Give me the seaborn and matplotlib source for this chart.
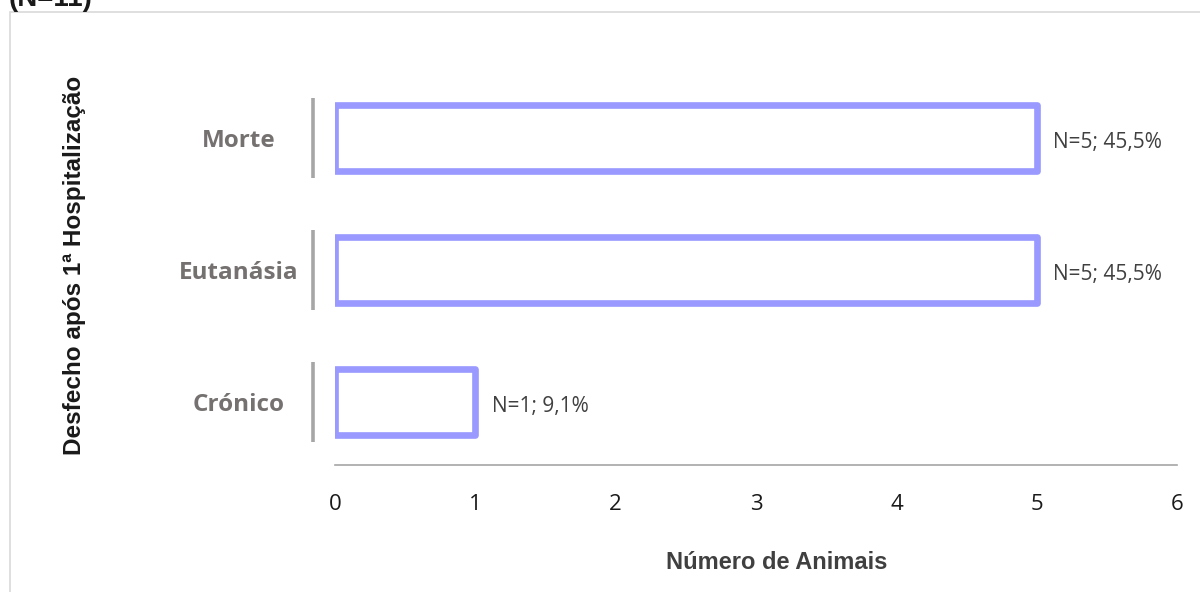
import matplotlib
matplotlib.use("Agg")
import matplotlib.pyplot as plt
import matplotlib.transforms as mtransforms
from matplotlib.patches import Rectangle
import seaborn as sns
import pandas as pd

# Outcome after first hospitalisation (N=11)
categories = ["Morte", "Eutanásia", "Crónico"]
counts = [5, 5, 1]
labels = ["N=5; 45,5%", "N=5; 45,5%", "N=1; 9,1%"]
xticks = [0, 1, 2, 3, 4, 5, 6]

df = pd.DataFrame({"Desfecho": categories, "Animais": counts})

sns.set_theme(style="white")
plt.rcParams["font.family"] = ["Open Sans", "DejaVu Sans"]

fig = plt.figure(figsize=(12, 5.92), dpi=100)
ax = fig.add_axes([0.279, 0.2145, 0.702, 0.6639])

sns.barplot(data=df, x="Animais", y="Desfecho", orient="h", order=categories,
            color="#9999FF", fill=False, width=0.5, linewidth=4.8, ax=ax)
for p in ax.patches:
    p.set_joinstyle("round")
    p.set_edgecolor("#9999FF")
    p.set_facecolor("white")

ax.set_xlim(0, 6)
ax.set_ylim(2.477, -0.5)
ax.set_xticks(xticks)
ax.set_xticklabels([str(t) for t in xticks], fontsize=16, color="#1a1a1a")
ax.tick_params(axis="x", length=0, pad=21)
ax.set_yticks(range(len(categories)))
ax.set_yticklabels([])
ax.tick_params(axis="y", length=0)

# category names, centred in the space left of the axis
ytrans = mtransforms.blended_transform_factory(fig.transFigure, ax.transData)
for i, name in enumerate(categories):
    ax.text(0.1985, i + 0.022, name, transform=ytrans, ha="center", va="center",
            fontsize=17.5, fontweight="bold", color="#767171")

for s in ["top", "right", "left"]:
    ax.spines[s].set_visible(False)
ax.spines["bottom"].set_color("#A6A6A6")
ax.spines["bottom"].set_linewidth(1.2)

# grey separators to the left of each category
trans = mtransforms.blended_transform_factory(ax.transAxes, ax.transData)
for i in range(len(categories)):
    ax.plot([-0.026, -0.026], [i - 0.3, i + 0.3], color="#A6A6A6", lw=2.6,
            transform=trans, clip_on=False, solid_capstyle="butt")

# value annotations
for i, (c, lab) in enumerate(zip(counts, labels)):
    ax.annotate(lab, (c, i), xytext=(12, -3), textcoords="offset points",
                ha="left", va="center", fontsize=15, color="#404040")

ax.set_xlabel("")
ax.set_ylabel("")
fig.text(0.6475, 0.049, "Número de Animais", ha="center", va="center",
         fontsize=17, fontweight="bold", color="#404040",
         family=["Liberation Sans", "DejaVu Sans"])
fig.text(0.0625, 0.552, "Desfecho após 1ª Hospitalização", ha="center",
         va="center", rotation=90, fontsize=17.5, fontweight="bold",
         color="#1a1a1a", family=["Liberation Sans", "DejaVu Sans"])

# chart frame and cropped title
fig.patches.append(Rectangle((0.0085, -0.01), 1.0, 0.99, transform=fig.transFigure,
                             fill=False, edgecolor="#D9D9D9", lw=1.2))
fig.text(0.007, 0.979, "(N=11)", ha="left", va="bottom", fontsize=20,
         fontweight="bold", color="#1a1a1a", family=["Liberation Sans", "DejaVu Sans"])

fig.savefig("out.png", dpi=100, facecolor="white")
